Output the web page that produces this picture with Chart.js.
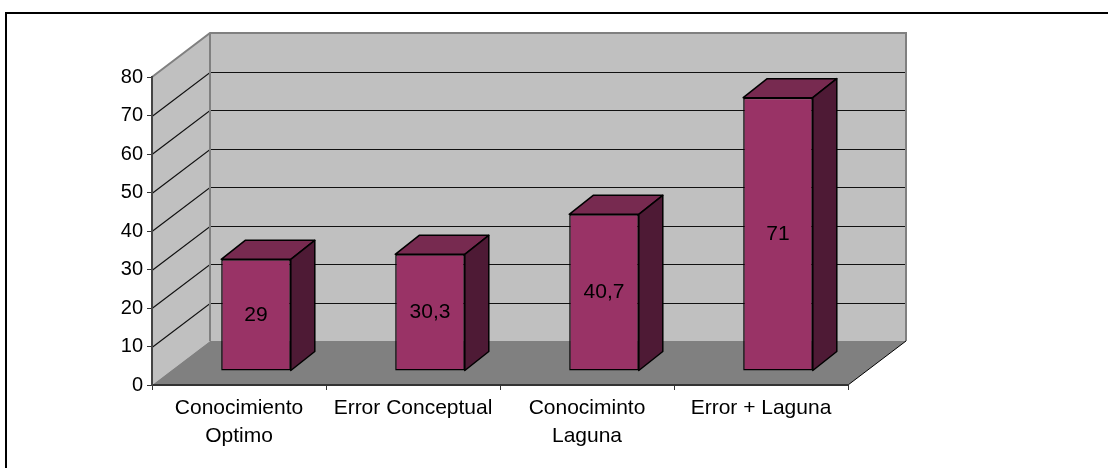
<!DOCTYPE html>
<html>
<head>
<meta charset="utf-8">
<script src="https://cdn.jsdelivr.net/npm/chart.js@4/dist/chart.umd.min.js"></script>
<style>
  html, body { margin: 0; padding: 0; background: #fff; }
  #c { display: block; }
</style>
</head>
<body>
<canvas id="c" width="1108" height="468"></canvas>
<script>
// Categories and their scores (percent)
const categories = [["Conocimiento", "Optimo"], "Error Conceptual", ["Conociminto", "Laguna"], "Error + Laguna"];
const scores = [29, 30.3, 40.7, 71];
const yMin = 0;
const yMax = 80;
const yStep = 10;

// 3D projection offsets (pixels)
const WALL = { dx: 58, dy: -44 };      // back wall relative to the front axis plane
const BAR_PLANE = { dx: 17, dy: -14 }; // front face of the bars
const BAR_DEPTH = { dx: 24, dy: -19 }; // thickness of each bar

const FRONT = '#993366';
const TOP = '#772A50';
const SIDE = '#4E1A35';

const fmt = v => String(v).replace('.', ',');

function poly(ctx, pts, fill) {
  ctx.beginPath();
  ctx.moveTo(pts[0][0], pts[0][1]);
  for (let i = 1; i < pts.length; i++) ctx.lineTo(pts[i][0], pts[i][1]);
  ctx.closePath();
  ctx.fillStyle = fill;
  ctx.fill();
}

function seg(ctx, pts) {
  ctx.beginPath();
  ctx.moveTo(pts[0][0], pts[0][1]);
  for (let i = 1; i < pts.length; i++) ctx.lineTo(pts[i][0], pts[i][1]);
  ctx.stroke();
}

const scene3d = {
  id: 'scene3d',
  beforeDraw(chart) {
    const { ctx, chartArea: a, scales: { y } } = chart;
    const L = a.left, R = a.right;
    const T = y.getPixelForValue(yMax), B = y.getPixelForValue(yMin);
    const dx = WALL.dx, dy = WALL.dy;
    ctx.save();

    // outer frame
    ctx.strokeStyle = '#000';
    ctx.lineWidth = 2;
    seg(ctx, [[6, 468], [6, 13], [1108, 13]]);

    // walls and floor
    poly(ctx, [[L, B], [L, T], [L + dx, T + dy], [L + dx, B + dy]], '#C0C0C0');
    poly(ctx, [[L + dx, T + dy], [R + dx, T + dy], [R + dx, B + dy], [L + dx, B + dy]], '#C0C0C0');
    poly(ctx, [[L, B], [R, B], [R + dx, B + dy], [L + dx, B + dy]], '#808080');

    // gridlines across side and back walls
    ctx.strokeStyle = '#111';
    ctx.lineWidth = 1.2;
    y.ticks.forEach(t => {
      if (t.value <= yMin || t.value >= yMax) return;
      const p = Math.round(y.getPixelForValue(t.value)) + 0.5;
      seg(ctx, [[L, p], [L + dx, p + dy], [R + dx, p + dy]]);
    });

    // wall edges
    ctx.strokeStyle = '#808080';
    ctx.lineWidth = 2;
    seg(ctx, [[L, T], [L + dx, T + dy], [R + dx, T + dy], [R + dx, B + dy]]);
    seg(ctx, [[L + dx, T + dy], [L + dx, B + dy]]);

    // floor outer edge
    ctx.strokeStyle = '#000';
    ctx.lineWidth = 1;
    seg(ctx, [[R, B], [R + dx, B + dy]]);
    ctx.restore();
  },
  beforeDatasetsDraw(chart) {
    chart.ctx.save();
    chart.ctx.translate(BAR_PLANE.dx, BAR_PLANE.dy);
  },
  afterDatasetsDraw(chart) {
    const ctx = chart.ctx;
    const meta = chart.getDatasetMeta(0);
    const data = chart.data.datasets[0].data;
    meta.data.forEach((el, i) => {
      const { x, y, base, width } = el.getProps(['x', 'y', 'base', 'width'], true);
      const l = x - width / 2, r = x + width / 2;
      const ddx = BAR_DEPTH.dx, ddy = BAR_DEPTH.dy;
      ctx.lineWidth = 1.5;
      ctx.strokeStyle = '#000';
      ctx.lineJoin = 'round';
      // top face
      poly(ctx, [[l, y], [l + ddx, y + ddy], [r + ddx, y + ddy], [r, y]], TOP);
      ctx.stroke();
      // right side face
      poly(ctx, [[r, y], [r + ddx, y + ddy], [r + ddx, base + ddy], [r, base]], SIDE);
      ctx.stroke();
      // value label
      ctx.fillStyle = '#000';
      ctx.font = '21px "Liberation Sans", Arial, sans-serif';
      ctx.textAlign = 'center';
      ctx.textBaseline = 'middle';
      ctx.fillText(fmt(data[i]), x, (y + base) / 2);
    });
    ctx.restore();
  }
};

new Chart(document.getElementById('c'), {
  type: 'bar',
  data: {
    labels: categories,
    datasets: [{
      data: scores,
      backgroundColor: FRONT,
      borderColor: '#000',
      borderWidth: 1.5,
      borderSkipped: false,
      barPercentage: 0.4,
      categoryPercentage: 1
    }]
  },
  options: {
    responsive: false,
    devicePixelRatio: 1,
    animation: false,
    layout: { padding: { left: 0, top: 77, right: 260, bottom: 0 } },
    plugins: { legend: { display: false }, tooltip: { enabled: false } },
    scales: {
      x: {
        offset: true,
        ticks: {
          color: '#000',
          font: { family: '"Liberation Sans", Arial, sans-serif', size: 21, lineHeight: 1.33 },
          padding: 4,
          maxRotation: 0,
          autoSkip: false
        },
        grid: { drawOnChartArea: false, offset: true, tickLength: 5, color: '#333', lineWidth: 1 },
        border: { color: '#333', width: 2 },
        afterFit: s => { s.height = 83; }
      },
      y: {
        min: yMin,
        max: yMax,
        ticks: {
          stepSize: yStep,
          color: '#000',
          font: { family: '"Liberation Sans", Arial, sans-serif', size: 20 },
          padding: 4
        },
        grid: { drawOnChartArea: false, tickLength: 5, color: '#333', lineWidth: 1 },
        border: { color: '#444', width: 2 },
        afterFit: s => { s.width = 152; }
      }
    }
  },
  plugins: [scene3d]
});
</script>
</body>
</html>
